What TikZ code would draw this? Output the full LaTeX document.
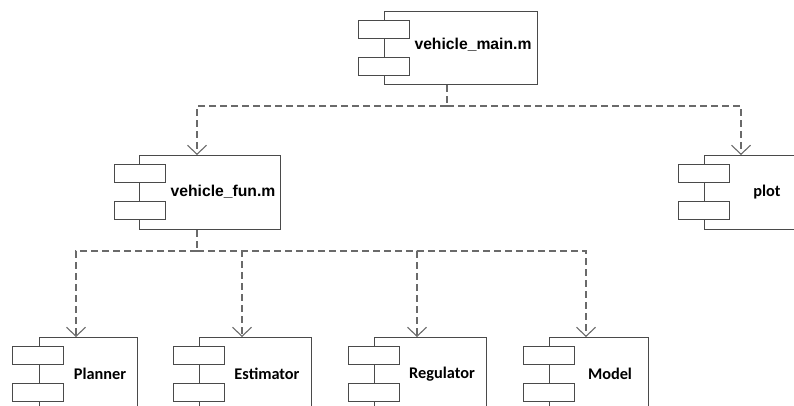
\documentclass[tikz,border=0pt]{standalone}
\usepackage{fontspec}
\usetikzlibrary{arrows.meta}
\newfontfamily\arialb{Liberation Sans}[BoldFont={* Bold}]
\newfontfamily\calib{Carlito}[BoldFont={* Bold}]
\definecolor{boxline}{HTML}{4A4A4A}
\definecolor{depline}{HTML}{6A6A6A}
\tikzset{
  compbox/.style={draw=boxline, line width=1.2pt, fill=white, rectangle, inner sep=0pt, anchor=north west},
  port/.style={draw=boxline, line width=1.2pt, fill=white, rectangle, inner sep=0pt, anchor=north west, minimum width=51pt, minimum height=18pt},
  deplink/.style={draw=depline, line width=1.3pt, dash pattern=on 7pt off 4pt},
  deparrow/.style={deplink, -{Straight Barb[length=9pt,width=19pt,line width=1.1pt]}},
  lbla/.style={font=\arialb\bfseries\fontsize{15.7}{18}\selectfont, inner sep=0pt},
  lblb/.style={font=\calib\bfseries\fontsize{16.3}{19}\selectfont, inner sep=0pt},
}
\begin{document}
\begin{tikzpicture}[x=1pt,y=-1pt]
\useasboundingbox (0,0) rectangle (794,405);
\clip (0,0) rectangle (794,405);
% top component
\node[compbox, minimum width=153pt, minimum height=73pt] (main) at (384,11) {};
\node[port] (mainp1) at (358,20) {};
\node[port] (mainp2) at (358,57) {};
\node[lbla] (mainl) at (473,45) {vehicle\_main.m};
% vehicle_fun
\node[compbox, minimum width=141pt, minimum height=74pt] (fun) at (139,155) {};
\node[port] (funp1) at (114,164) {};
\node[port] (funp2) at (114,201) {};
\node[lbla] (funl) at (223,192) {vehicle\_fun.m};
% plot
\node[compbox, minimum width=130pt, minimum height=74pt] (plot) at (704,155) {};
\node[port] (plotp1) at (678,164) {};
\node[port] (plotp2) at (678,201) {};
\node[lblb] (plotl) at (767,192) {plot};
% bottom row
\node[compbox, minimum width=98pt, minimum height=100pt] (plan) at (39,337) {};
\node[port] (planp1) at (12,346) {};
\node[port] (planp2) at (12,383) {};
\node[lblb] (planl) at (100,374) {Planner};
\node[compbox, minimum width=112pt, minimum height=100pt] (est) at (199,337) {};
\node[port] (estp1) at (173,346) {};
\node[port] (estp2) at (173,383) {};
\node[lblb] (estl) at (267,374) {Estimator};
\node[compbox, minimum width=112pt, minimum height=100pt] (reg) at (374,337) {};
\node[port] (regp1) at (348,346) {};
\node[port] (regp2) at (348,383) {};
\node[lblb] (regl) at (442,374) {Regulator};
\node[compbox, minimum width=99pt, minimum height=100pt] (mod) at (549,337) {};
\node[port] (modp1) at (523,346) {};
\node[port] (modp2) at (523,383) {};
\node[lblb] (modl) at (610,374) {Model};
% junctions
\coordinate (j1) at (447,106);
\coordinate (j2) at (197,251);
% connectors level 1
\draw[deplink] (main.south -| j1) -- (j1);
\draw[deparrow] (j1) -| (fun.north -| j2);
\draw[deparrow] (j1) -| ([xshift=37pt]plot.north west);
% connectors level 2
\draw[deplink] (fun.south -| j2) -- (j2);
\draw[deparrow] (j2) -| ([xshift=37pt]plan.north west);
\draw[deparrow] (j2) -| ([xshift=43pt]est.north west);
\draw[deparrow] (j2) -| ([xshift=43pt]reg.north west);
\draw[deparrow] (j2) -| ([xshift=37pt]mod.north west);
\end{tikzpicture}
\end{document}
